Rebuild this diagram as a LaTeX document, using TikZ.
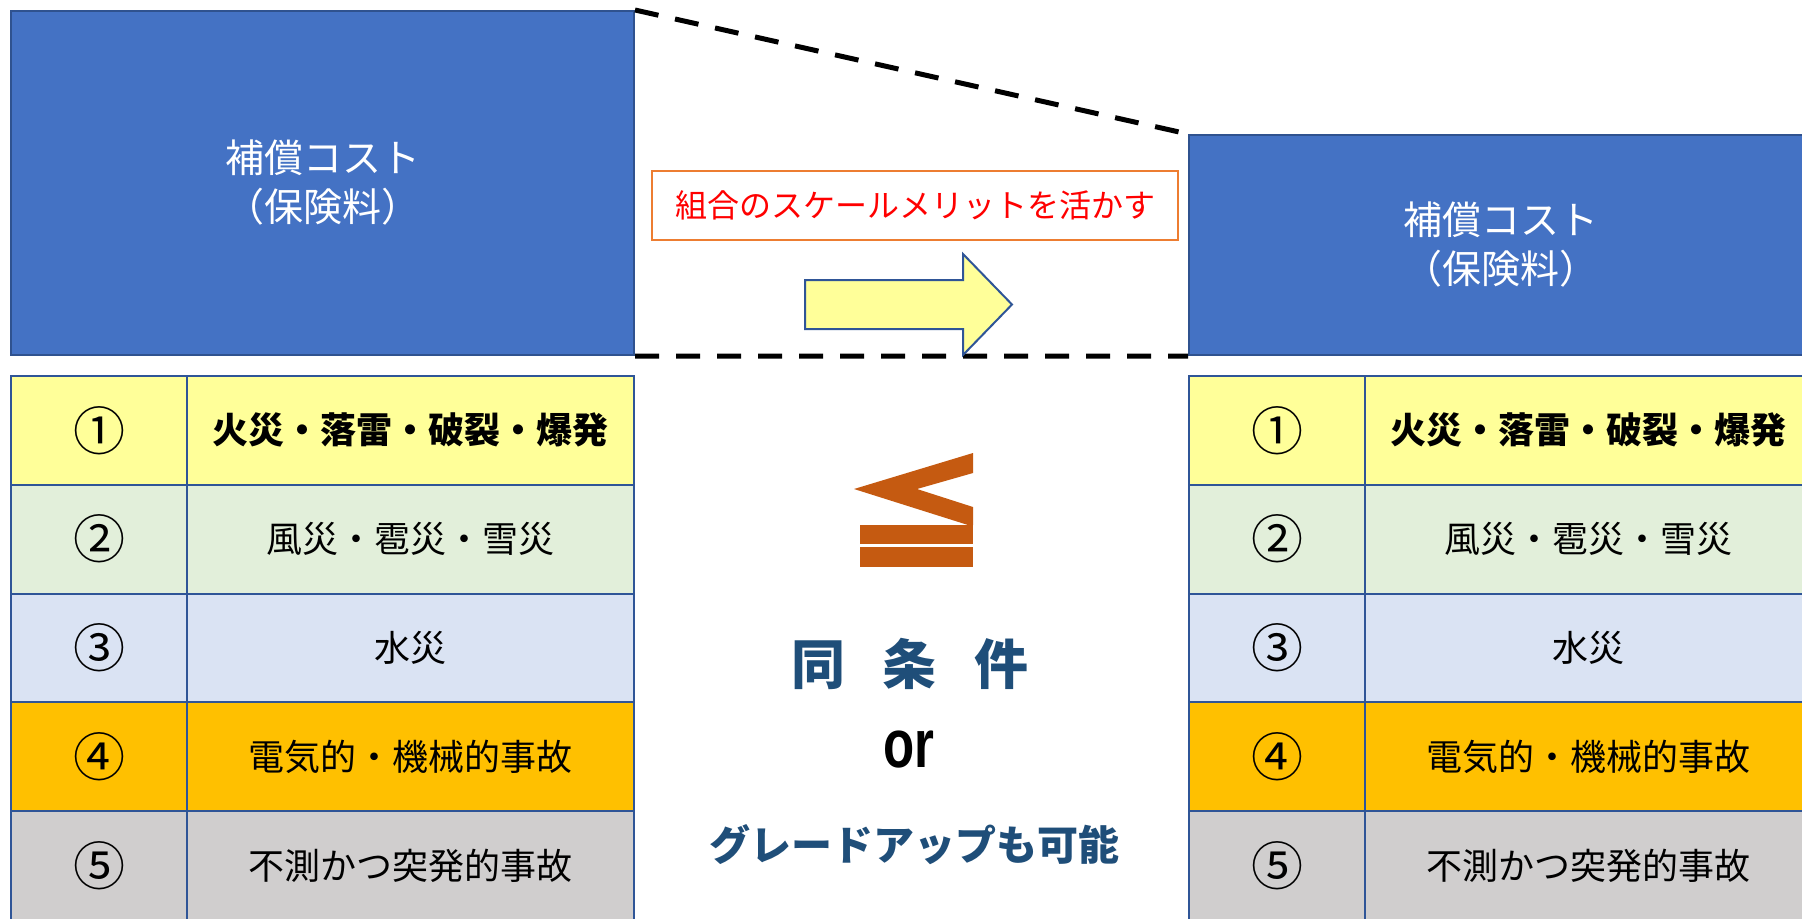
\documentclass[tikz,border=0pt]{standalone}
\usepackage{fontspec}
\newfontfamily\jp{Noto Sans CJK JP}
\newfontfamily\lat{Liberation Sans}
\definecolor{boxblue}{HTML}{4472C4}
\definecolor{boxedge}{HTML}{2F528F}
\definecolor{tbl}{HTML}{2F5597}
\definecolor{rowA}{HTML}{FFFF99}
\definecolor{rowB}{HTML}{E2EFDA}
\definecolor{rowC}{HTML}{DAE3F3}
\definecolor{rowD}{HTML}{FFC000}
\definecolor{rowE}{HTML}{D0CECE}
\definecolor{leq}{HTML}{C55A11}
\definecolor{navy}{HTML}{1F4E79}
\definecolor{orng}{HTML}{ED7D31}
\newcommand\mktable[2]{%
  \node[numcell,fill=rowA] (#1n1) at (#2,375) {①};
  \node[txtcell,fill=rowA] (#1t1) at (#2+176,375) {\bfseries 火災・落雷・破裂・爆発};
  \node[numcell,fill=rowB] (#1n2) at (#2,483.75) {②};
  \node[txtcell,fill=rowB] (#1t2) at (#2+176,483.75) {風災・雹災・雪災};
  \node[numcell,fill=rowC] (#1n3) at (#2,592.5) {③};
  \node[txtcell,fill=rowC] (#1t3) at (#2+176,592.5) {水災};
  \node[numcell,fill=rowD] (#1n4) at (#2,701.25) {④};
  \node[txtcell,fill=rowD] (#1t4) at (#2+176,701.25) {電気的・機械的事故};
  \node[numcell,fill=rowE] (#1n5) at (#2,810) {⑤};
  \node[txtcell,fill=rowE] (#1t5) at (#2+176,810) {不測かつ突発的事故};
}
\tikzset{
  cellbase/.style={draw=tbl, line width=2bp, inner sep=0pt, anchor=north west,
    minimum height=108.75bp, font=\jp\fontsize{36bp}{40bp}\selectfont},
  numcell/.style={cellbase, minimum width=176bp, font=\jp\fontsize{52bp}{56bp}\selectfont},
  txtcell/.style={cellbase, minimum width=447bp},
  costbox/.style={draw=boxedge, line width=2bp, fill=boxblue, text=white, anchor=north west,
    minimum width=623bp, align=center, inner sep=0pt,
    font=\jp\fontsize{39bp}{49bp}\selectfont},
  dashline/.style={line width=5bp, dash pattern=on 24bp off 17bp},
}
\begin{document}
\begin{tikzpicture}[x=1bp,y=-1bp]
\useasboundingbox (0,0) rectangle (1802,918);
\clip (0,0) rectangle (1802,918);
\fill[white] (0,0) rectangle (1802,918);
% cost boxes
\node[costbox, minimum height=344bp] (costL) at (10,10) {補償コスト\\（保険料）};
\node[costbox, minimum height=220bp] (costR) at (1188,134) {補償コスト\\（保険料）};
% dashed connectors
\draw[dashline] (costL.north east) -- (costR.north west);
\draw[dashline] (costL.south east) -- (costR.south west);
% tables
\mktable{L}{10}
\mktable{R}{1188}
% label box
\node[draw=orng, line width=2bp, minimum width=526bp, minimum height=69bp, inner sep=0pt,
  text=red, font=\jp\fontsize{32bp}{36bp}\selectfont] (merit) at (915,205.5) {組合のスケールメリットを活かす};
% arrow
\draw[draw=tbl, line width=2bp, fill=rowA] (805,280) -- (963,280) -- (963,254) -- (1012,304.5)
  -- (963,355) -- (963,329) -- (805,329) -- cycle;
% leq symbol
\fill[leq] (973,453) -- (854,489) -- (968,525) -- (973,525) -- (973,507) -- (917,489) -- (973,473) -- cycle;
\fill[leq] (860,525) rectangle (973,544);
\fill[leq] (860,547) rectangle (973,567);
% texts
\node[text=navy, font=\jp\bfseries\fontsize{54bp}{60bp}\selectfont] (same) at (910,664) {同\hspace{38bp}条\hspace{38bp}件};
\node[font=\lat\bfseries\fontsize{68bp}{72bp}\selectfont] (or) at (909,750) {\scalebox{0.75}[1]{or}};
\node[text=navy, font=\jp\bfseries\fontsize{41bp}{46bp}\selectfont] (up) at (914,845) {グレードアップも可能};
\end{tikzpicture}
\end{document}
